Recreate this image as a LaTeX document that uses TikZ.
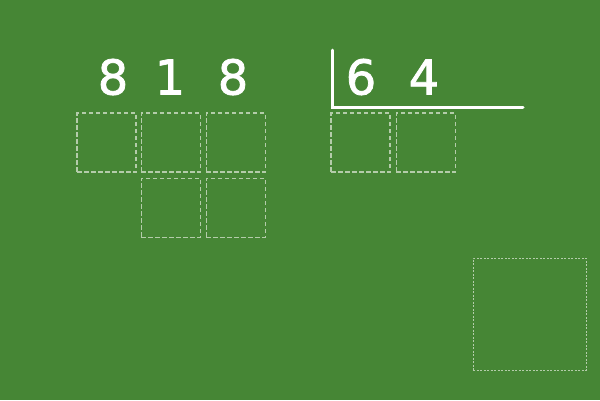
\documentclass[tikz,border=0pt]{standalone}
\usepackage{fontspec}
\setmainfont{DejaVu Sans}
\newfontfamily\digitfont[FakeBold=1.6]{DejaVu Sans}
\usetikzlibrary{positioning}
\definecolor{board}{RGB}{70,134,53}
\definecolor{chalkgray}{RGB}{180,204,170}
\tikzset{
    digit/.style={text=white, font=\digitfont\fontsize{48}{48}\selectfont, inner sep=0pt},
    cell/.style={draw=chalkgray, dash pattern=on 4.5pt off 2.5pt, line width=1.1pt, minimum size=59pt, inner sep=0pt},
    bigcell/.style={draw=chalkgray, dash pattern=on 2pt off 1.5pt, line width=0.8pt, minimum width=113pt, minimum height=112pt, inner sep=0pt}
}
\begin{document}
\begin{tikzpicture}[x=1pt, y=-1pt]
    % Board
    \fill[board] (0,0) rectangle (600,400);
    \useasboundingbox (0,0) rectangle (600,400);

    % Dividend
    \node[digit] (d1) at (113,77) {8};
    \node[digit] (d2) at (170,77) {1};
    \node[digit] (d3) at (233,77) {8};

    % Divisor
    \node[digit] (q1) at (361,77) {6};
    \node[digit] (q2) at (424,77) {4};

    % Division bracket
    \coordinate (top) at (332,50);
    \coordinate (corner) at (332,107);
    \coordinate (end) at (523,107);
    \draw[white, line width=3pt, line cap=round] (top) -- (corner) -- (end);

    % Cells under the dividend
    \node[cell] (a1) at (106.5,142.5) {};
    \node[cell, right=4pt of a1] (a2) {};
    \node[cell, right=5pt of a2] (a3) {};
    \node[cell, below=5pt of a2] (b2) {};
    \node[cell, below=5pt of a3] (b3) {};

    % Cells under the divisor
    \node[cell] (c1) at (360.5,142.5) {};
    \node[cell, right=5pt of c1] (c2) {};

    % Remainder
    \node[bigcell] (r) at (529.5,314) {};
\end{tikzpicture}
\end{document}
